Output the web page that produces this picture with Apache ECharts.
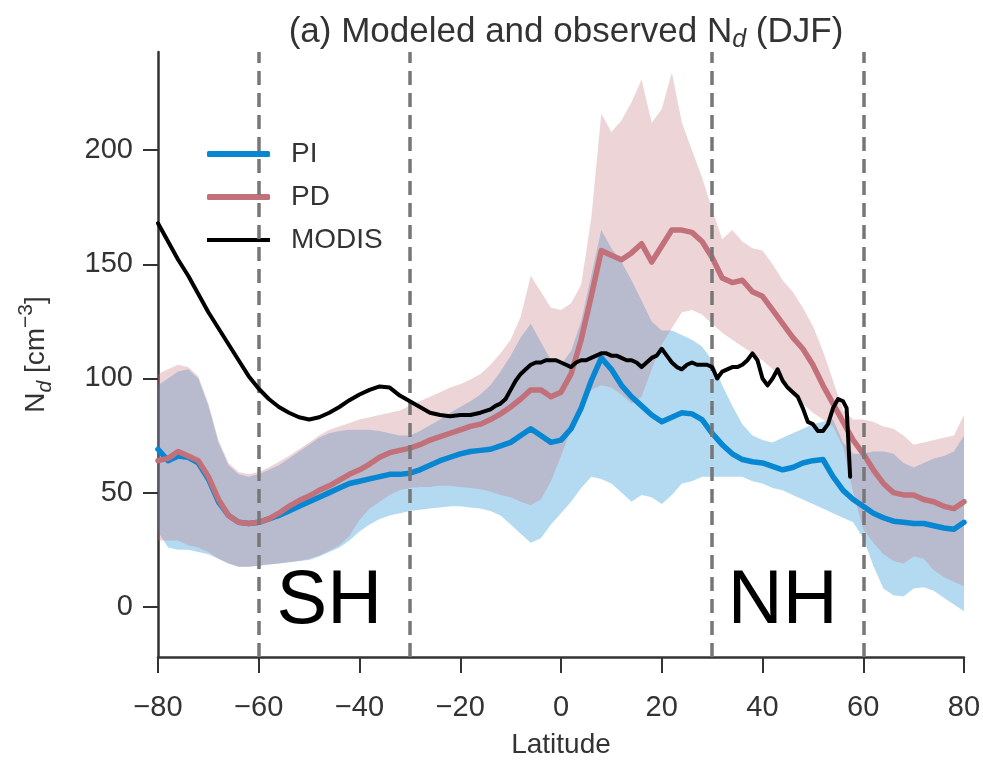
<!DOCTYPE html>
<html>
<head>
<meta charset="utf-8">
<script src="https://cdn.jsdelivr.net/npm/echarts@6/dist/echarts.min.js"></script>
<style>
  html, body { margin: 0; padding: 0; background: #ffffff; }
  #chart { width: 983px; height: 764px; }
</style>
</head>
<body>
<div id="chart"></div>
<script>
// Zonal-mean cloud droplet number concentration, DJF
const lat = [-80, -78, -76, -74, -72, -70, -68, -66, -64, -62,
             -60, -58, -56, -54, -52, -50, -48, -46, -44, -42,
             -40, -38, -36, -34, -32, -30, -28, -26, -24, -22,
             -20, -18, -16, -14, -12, -10, -8, -6, -4, -2,
             0, 2, 4, 6, 8, 10, 12, 14, 16, 18,
             20, 22, 24, 26, 28, 30, 32, 34, 36, 38,
             40, 42, 44, 46, 48, 50, 52, 54, 56, 58,
             60, 62, 64, 66, 68, 70, 72, 74, 76, 78,
             80];

// Pre-industrial model: mean and spread
const piMean = [69, 64, 66, 65.5, 63, 56, 46, 40, 37, 36.5,
                37, 38.5, 40, 42, 44, 46, 48, 50, 52, 54,
                55, 56, 57, 58, 58, 58.5, 60, 62, 64, 65.5,
                67, 68, 68.5, 69, 70.5, 72, 75, 78, 75, 72,
                73, 78, 87, 99, 109, 104, 97, 92, 88, 84,
                81, 83, 85, 84.5, 82, 76, 71, 67, 64.5, 63.5,
                63, 61.5, 60, 61, 63, 64, 64.5, 57, 51, 47,
                44, 41, 39, 37.5, 37, 36.5, 36.5, 35.5, 34.5, 34,
                37];
const piLow = [33, 26, 25, 25, 24, 23, 21, 19, 17.5, 17.5,
               18, 18.5, 19, 19.5, 20, 20.5, 22, 24, 26, 29,
               33, 36, 38.5, 40, 41, 42, 42.5, 43, 43.5, 44,
               44, 43.5, 43, 42, 40, 36, 32, 28, 30, 36,
               41, 46, 52, 57, 56, 54, 50, 46, 49, 48,
               45, 49, 54, 55, 57, 57, 57, 57, 57, 55,
               54, 52, 51, 49, 47, 45, 43, 41, 39, 37,
               30, 18, 8, 5, 4.5, 8, 8.5, 7, 4, 1,
               -2];
const piHigh = [97, 100, 103, 104, 100, 88, 72, 62, 58, 57,
                58, 60, 62, 65, 68, 71, 74, 76, 77, 77.5,
                77.5, 77.5, 77, 76, 75, 75, 77, 79.5, 82, 85,
                87.5, 90, 93, 97, 103, 110, 118, 124, 116, 108,
                106, 112, 125, 145, 165, 157, 151, 143, 134, 125,
                121, 121, 119, 117, 114, 108, 97, 88, 80, 75,
                73, 72, 74, 76, 78, 80, 81, 82, 72, 67,
                67, 68, 68, 67, 63, 61, 63, 65, 66, 68,
                75];

// Present-day model: mean and spread
const pdMean = [64, 65, 68, 66, 64, 57, 47, 40, 37, 36.5,
                37, 38.5, 41, 44, 46.5, 48.5, 51, 53, 55.5, 58,
                60, 62.5, 65.5, 67.5, 68.5, 69.5, 71, 73, 74.5, 76,
                77.5, 79, 80, 82, 84.5, 87.5, 91, 95, 95, 92,
                94, 102, 117, 136, 156, 154, 152, 155, 159, 151,
                158, 165, 165, 164, 160, 153, 144, 142, 143, 138,
                136, 130, 124, 118, 113, 106, 97, 89, 81, 73,
                67, 60, 54, 50, 49, 49, 47, 46, 44, 43,
                46];
const pdLow = [29, 29, 29, 27, 26, 24, 21, 19, 17.5, 17.5,
               18, 18.5, 19, 19.5, 20, 21, 22.5, 24.5, 27, 31,
               38, 43, 46, 49, 51, 52, 52.5, 52.5, 53, 53,
               52.5, 52, 51.5, 50.5, 49, 48, 46, 44.5, 47, 55,
               66, 78, 88, 95, 97, 96, 93, 89, 92, 104,
               115, 122, 129, 130, 128, 124, 120, 117, 114, 111,
               108, 104, 99, 94, 89, 85, 82, 79, 70, 50,
               34, 28, 23, 20, 19, 22, 21, 16, 13, 11,
               9];
const pdHigh = [102, 104, 106, 105, 101, 89, 73, 63, 59, 58,
                59, 61, 63.5, 66, 69, 72, 75, 77.5, 79, 80.5,
                82, 83, 84, 85, 86, 88, 90, 92, 94, 96,
                97.5, 99.5, 102, 106, 111, 117, 127, 145, 138, 131,
                130, 133, 141, 170, 216, 208, 213, 221, 231, 212,
                218, 234, 212, 200, 188, 174, 161, 165, 160, 157,
                156, 150, 143, 138, 131, 123, 112, 99, 86, 82,
                82, 81, 79, 78, 75, 71, 72, 73, 74, 75,
                84];

// MODIS retrieval (ends near 57N)
const modisLat = [-80, -78, -76, -74, -72, -70, -68, -66, -64, -62,
                  -60, -58, -56, -54, -52, -50, -48, -46, -44, -42,
                  -40, -38, -36, -34, -32, -30, -28, -26, -24, -22,
                  -20, -18, -16, -14,
                  -13, -12, -11, -10, -9, -8, -7, -6, -5, -4, -3, -2, -1,
                  0, 1, 2, 3, 4, 5, 6, 7, 8, 9,
                  10, 11, 12, 13, 14, 15, 16, 17, 18, 19,
                  20, 21, 22, 23, 24, 25, 26, 27, 28, 29,
                  30, 31, 32, 33, 34, 35, 36, 37, 38, 39,
                  40, 41, 42, 43, 44, 45, 46, 47, 48, 49,
                  50, 51, 52, 53, 54, 55, 56, 56.7, 57.4];
const modisVal = [168, 160, 152, 145, 137, 129, 122, 115, 108, 101,
                  95.5, 91, 87.5, 85, 83, 82, 83, 85, 87.5, 90.5,
                  93, 95, 96.5, 96, 92.5, 90, 87.5, 85, 84, 83.5,
                  84, 84, 85, 86.5,
                  88, 89, 91, 95, 99, 102, 104, 106, 107, 107, 108, 108, 108,
                  107, 106, 105, 107, 108, 108, 109, 110, 111, 111,
                  110, 110, 109, 108, 108, 107, 105, 107, 109, 110,
                  113, 110, 107, 105, 104, 106, 107, 106, 106, 106,
                  105, 100, 103, 104, 105, 105, 106, 108, 111, 108,
                  100, 97, 100, 104, 99, 96, 94, 92, 87, 81,
                  80, 77, 77, 80, 87, 91, 90, 87, 57];

// Hemisphere boundaries and y tick values
const guideLat = [-60, -30, 30, 60];
const yTicks = [0, 50, 100, 150, 200];

const PI_COLOR = '#0786d2';
const PD_COLOR = '#c2707a';
const TEXT = '#333333';
const FONT = '"Liberation Sans", Arial, sans-serif';

const chart = echarts.init(document.getElementById('chart'), null, { renderer: 'canvas' });

function pairs(xs, ys) {
  return xs.map((x, i) => [x, ys[i]]);
}

// Shaded spread drawn as one polygon through the cartesian coordinate system
function band(name, low, high, color, z) {
  return {
    type: 'custom',
    name: name,
    z: z,
    silent: true,
    clip: true,
    data: [[lat[0], low[0]]],
    renderItem: function (params, api) {
      const pts = [];
      for (let i = 0; i < lat.length; i++) pts.push(api.coord([lat[i], high[i]]));
      for (let i = lat.length - 1; i >= 0; i--) pts.push(api.coord([lat[i], low[i]]));
      return {
        type: 'polygon',
        shape: { points: pts },
        style: { fill: color, opacity: 0.3 }
      };
    }
  };
}

// Legend swatches: a full-height bar for the model means, a slightly thinner one for MODIS
const THICK_ICON = 'roundRect';
const THIN_ICON = 'path://M0,0 L0.01,0 L0.01,0.01 Z M0,1 L63,1 L63,5 L0,5 Z M0,6 L0.01,6 L0.01,5.99 Z';

const option = {
  animation: false,
  backgroundColor: '#ffffff',
  title: {
    text: '{t|(a) Modeled and observed N}{s|d}{t| (DJF)}',
    left: 561,
    top: 6,
    textAlign: 'center',
    textStyle: {
      fontWeight: 'normal',
      rich: {
        t: { fontFamily: FONT, fontSize: 35, fontWeight: 'normal', color: TEXT, lineHeight: 42, verticalAlign: 'middle' },
        s: { fontFamily: FONT, fontSize: 25, fontWeight: 'normal', fontStyle: 'italic', color: TEXT, lineHeight: 22, verticalAlign: 'bottom' }
      }
    }
  },
  legend: {
    left: 202,
    top: 134,
    orient: 'vertical',
    itemWidth: 63,
    itemHeight: 6,
    itemGap: 13,
    selectedMode: false,
    data: [
      { name: 'PI', icon: THICK_ICON },
      { name: 'PD', icon: THICK_ICON },
      { name: 'MODIS', icon: THIN_ICON }
    ],
    textStyle: { fontFamily: FONT, fontSize: 28, color: TEXT, lineHeight: 30, padding: [0, 0, 0, 16] }
  },
  grid: { left: 158, right: 19, top: 52, bottom: 107, containLabel: false, outerBoundsMode: 'none' },
  xAxis: {
    type: 'value',
    min: -80,
    max: 80,
    interval: 20,
    name: 'Latitude',
    nameLocation: 'middle',
    nameGap: 74,
    nameTextStyle: { fontFamily: FONT, fontSize: 28, color: TEXT },
    axisLine: { show: true, onZero: false, lineStyle: { color: TEXT, width: 2.5 } },
    axisTick: { show: true, length: 16, lineStyle: { color: TEXT, width: 2 } },
    axisLabel: {
      fontFamily: FONT, fontSize: 29, color: TEXT, margin: 36,
      formatter: v => String(v).replace('-', '\u2212')
    },
    splitLine: { show: false }
  },
  yAxis: {
    type: 'value',
    min: -22,
    max: 243,
    name: '{n|N}{s|d}{n| [cm}{p|\u22123}{n|]}',
    nameLocation: 'middle',
    nameRotate: 90,
    nameGap: 102,
    nameTextStyle: {
      rich: {
        n: { fontFamily: FONT, fontSize: 28, color: TEXT, lineHeight: 40, verticalAlign: 'middle' },
        s: { fontFamily: FONT, fontSize: 21, fontStyle: 'italic', color: TEXT, lineHeight: 20, verticalAlign: 'bottom' },
        p: { fontFamily: FONT, fontSize: 21, color: TEXT, lineHeight: 20, verticalAlign: 'top' }
      }
    },
    axisLine: { show: true, onZero: false, lineStyle: { color: TEXT, width: 2.5 } },
    axisTick: { show: true, length: 15, customValues: yTicks, lineStyle: { color: TEXT, width: 2 } },
    axisLabel: { fontFamily: FONT, fontSize: 29, color: TEXT, margin: 25, customValues: yTicks },
    splitLine: { show: false }
  },
  series: [
    band('PI spread', piLow, piHigh, PI_COLOR, 1),
    band('PD spread', pdLow, pdHigh, PD_COLOR, 2),
    {
      type: 'line', name: 'PI', z: 3,
      data: pairs(lat, piMean),
      showSymbol: false, symbol: 'none',
      lineStyle: { color: PI_COLOR, width: 5.5, join: 'round', cap: 'round' },
      itemStyle: { color: PI_COLOR }
    },
    {
      type: 'line', name: 'PD', z: 4,
      data: pairs(lat, pdMean),
      showSymbol: false, symbol: 'none',
      lineStyle: { color: PD_COLOR, width: 5.5, join: 'round', cap: 'round' },
      itemStyle: { color: PD_COLOR }
    },
    {
      type: 'line', name: 'MODIS', z: 5,
      data: pairs(modisLat, modisVal),
      showSymbol: false, symbol: 'none',
      lineStyle: { color: '#000000', width: 4, join: 'round', cap: 'round' },
      itemStyle: { color: '#000000' }
    },
    {
      type: 'line', name: 'guides', z: 6,
      data: [],
      markLine: {
        silent: true,
        symbol: 'none',
        animation: false,
        label: { show: false },
        lineStyle: { color: '#777777', width: 3.5, type: [14, 8], opacity: 1 },
        emphasis: { disabled: true },
        data: guideLat.map(v => ({ xAxis: v }))
      }
    }
  ]
};

chart.setOption(option);

// Hemisphere labels placed in data coordinates
const hemiLabels = [
  { text: 'SH', at: [-46, 2] },
  { text: 'NH', at: [44, 2] }
];
chart.setOption({
  graphic: hemiLabels.map(h => {
    const p = chart.convertToPixel({ gridIndex: 0 }, h.at);
    return {
      type: 'text',
      x: p[0],
      y: p[1],
      z: 10,
      style: {
        text: h.text,
        fill: '#000000',
        font: '76px "Liberation Sans", Arial, sans-serif',
        align: 'center',
        verticalAlign: 'middle'
      }
    };
  })
});
</script>
</body>
</html>
